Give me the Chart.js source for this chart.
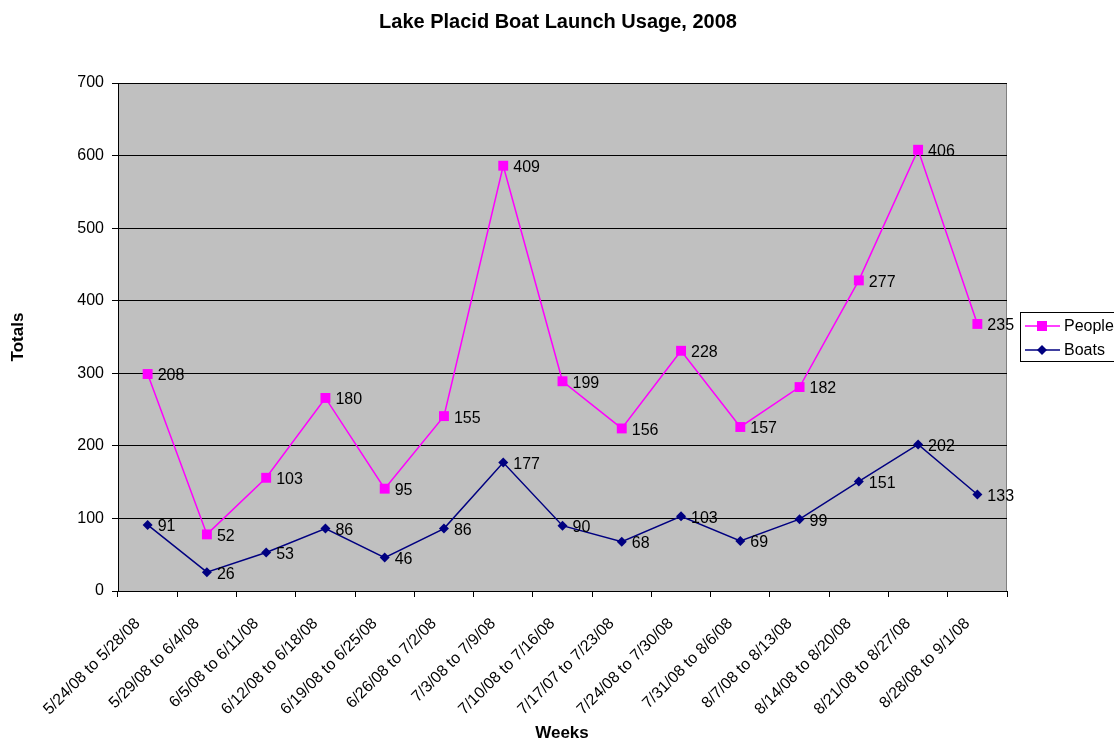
<!DOCTYPE html>
<html>
<head>
<meta charset="utf-8">
<script src="https://cdn.jsdelivr.net/npm/chart.js@4.4.1/dist/chart.umd.min.js"></script>
<style>
  html, body { margin: 0; padding: 0; background: #ffffff; }
  #wrap { width: 1114px; height: 740px; }
</style>
</head>
<body>
<div id="wrap"><canvas id="c" width="1114" height="740"></canvas></div>
<script>
// Weekly totals at the Lake Placid boat launch, 2008
const weeks = [
  '5/24/08 to 5/28/08', '5/29/08 to 6/4/08', '6/5/08 to 6/11/08', '6/12/08 to 6/18/08',
  '6/19/08 to 6/25/08', '6/26/08 to 7/2/08', '7/3/08 to 7/9/08', '7/10/08 to 7/16/08',
  '7/17/07 to 7/23/08', '7/24/08 to 7/30/08', '7/31/08 to 8/6/08', '8/7/08 to 8/13/08',
  '8/14/08 to 8/20/08', '8/21/08 to 8/27/08', '8/28/08 to 9/1/08'
];
const boats  = [91, 26, 53, 86, 46, 86, 177, 90, 68, 103, 69, 99, 151, 202, 133];
const people = [208, 52, 103, 180, 95, 155, 409, 199, 156, 228, 157, 182, 277, 406, 235];
const yTicks = [0, 100, 200, 300, 400, 500, 600, 700];

const FONT = '"Liberation Sans", Arial, sans-serif';
const PINK = '#FF00FF';
const NAVY = '#000080';

// grey plot background and plot border
const plotBackground = {
  id: 'plotBackground',
  beforeDraw(chart) {
    const { ctx, chartArea: a } = chart;
    ctx.save();
    ctx.fillStyle = '#C0C0C0';
    ctx.fillRect(a.left, a.top, a.right - a.left, a.bottom - a.top);
    ctx.strokeStyle = '#808080';
    ctx.lineWidth = 1;
    ctx.strokeRect(a.left + 0.5, a.top + 0.5, a.right - a.left - 1, a.bottom - a.top);
    ctx.restore();
  }
};

// slanted week labels under the category axis
const weekLabels = {
  id: 'weekLabels',
  afterDraw(chart) {
    const { ctx } = chart;
    const xs = chart.scales.x;
    ctx.save();
    ctx.font = '16px ' + FONT;
    ctx.fillStyle = '#000000';
    ctx.textAlign = 'right';
    ctx.textBaseline = 'middle';
    chart.data.labels.forEach((lab, i) => {
      const x = xs.getPixelForTick(i);
      ctx.save();
      ctx.translate(x - 10, xs.top + 30);
      ctx.rotate(-Math.PI / 4);
      ctx.fillText(lab, 0, 0);
      ctx.restore();
    });
    ctx.restore();
  }
};

// value labels to the right of each marker
const valueLabels = {
  id: 'valueLabels',
  afterDatasetsDraw(chart) {
    const { ctx } = chart;
    ctx.save();
    ctx.font = '16px ' + FONT;
    ctx.fillStyle = '#000000';
    ctx.textAlign = 'left';
    ctx.textBaseline = 'middle';
    chart.data.datasets.forEach((ds, i) => {
      const meta = chart.getDatasetMeta(i);
      meta.data.forEach((pt, j) => {
        ctx.fillText(String(ds.data[j]), pt.x + 10, pt.y + 2);
      });
    });
    ctx.restore();
  }
};

// title, axis titles and legend
const decorations = {
  id: 'decorations',
  afterDraw(chart) {
    const { ctx } = chart;
    ctx.save();
    ctx.fillStyle = '#000000';
    ctx.textAlign = 'center';
    ctx.textBaseline = 'middle';
    ctx.font = 'bold 20px ' + FONT;
    ctx.fillText('Lake Placid Boat Launch Usage, 2008', 558, 22);
    ctx.font = 'bold 17px ' + FONT;
    ctx.fillText('Weeks', 562, 733);
    ctx.save();
    ctx.translate(18, 337);
    ctx.rotate(-Math.PI / 2);
    ctx.fillText('Totals', 0, 0);
    ctx.restore();

    // legend
    ctx.fillStyle = '#ffffff';
    ctx.fillRect(1020, 312, 110, 49);
    ctx.strokeStyle = '#000000';
    ctx.lineWidth = 1;
    ctx.strokeRect(1020.5, 312.5, 110, 49);
    const entries = [
      { label: 'People', color: PINK, style: 'rect', y: 326 },
      { label: 'Boats', color: NAVY, style: 'rectRot', y: 350 }
    ];
    entries.forEach(e => {
      ctx.strokeStyle = e.color;
      ctx.lineWidth = 1.5;
      ctx.beginPath();
      ctx.moveTo(1025, e.y);
      ctx.lineTo(1060, e.y);
      ctx.stroke();
      ctx.fillStyle = e.color;
      if (e.style === 'rect') {
        ctx.fillRect(1037, e.y - 5, 10, 10);
      } else {
        ctx.beginPath();
        ctx.moveTo(1042, e.y - 5);
        ctx.lineTo(1047, e.y);
        ctx.lineTo(1042, e.y + 5);
        ctx.lineTo(1037, e.y);
        ctx.closePath();
        ctx.fill();
      }
      ctx.fillStyle = '#000000';
      ctx.font = '16px ' + FONT;
      ctx.textAlign = 'left';
      ctx.fillText(e.label, 1064, e.y + 1);
    });
    ctx.restore();
  }
};

new Chart(document.getElementById('c'), {
  type: 'line',
  data: {
    labels: weeks,
    datasets: [
      {
        label: 'Boats',
        data: boats,
        borderColor: NAVY,
        backgroundColor: NAVY,
        borderWidth: 1.5,
        pointStyle: 'rectRot',
        pointRadius: 5,
        pointHoverRadius: 5,
        pointBorderWidth: 0,
        fill: false,
        tension: 0
      },
      {
        label: 'People',
        data: people,
        borderColor: PINK,
        backgroundColor: PINK,
        borderWidth: 1.5,
        pointStyle: 'rect',
        pointRadius: 7,
        pointHoverRadius: 7,
        pointBorderWidth: 0,
        fill: false,
        tension: 0
      }
    ]
  },
  options: {
    responsive: false,
    animation: false,
    devicePixelRatio: 1,
    layout: { padding: { left: 0, top: 83, right: 107, bottom: 0 } },
    plugins: {
      legend: { display: false },
      title: { display: false },
      tooltip: { enabled: false }
    },
    scales: {
      x: {
        type: 'category',
        offset: true,
        afterFit(scale) { scale.height = 149; },
        border: { display: true, color: '#000000', width: 1 },
        grid: {
          offset: true,
          drawOnChartArea: false,
          drawTicks: true,
          tickLength: 6,
          tickColor: '#000000'
        },
        ticks: {
          display: false,
          autoSkip: false
        }
      },
      y: {
        stacked: true,
        min: 0,
        max: 700,
        afterFit(scale) { scale.width = 118; },
        afterBuildTicks(scale) { scale.ticks = yTicks.map(v => ({ value: v })); },
        border: { display: true, color: '#000000', width: 1 },
        grid: {
          color: '#000000',
          lineWidth: 1,
          drawTicks: true,
          tickLength: 6,
          tickColor: '#000000'
        },
        ticks: {
          padding: 8,
          color: '#000000',
          font: { family: FONT, size: 16 }
        }
      }
    }
  },
  plugins: [plotBackground, weekLabels, valueLabels, decorations]
});
</script>
</body>
</html>
